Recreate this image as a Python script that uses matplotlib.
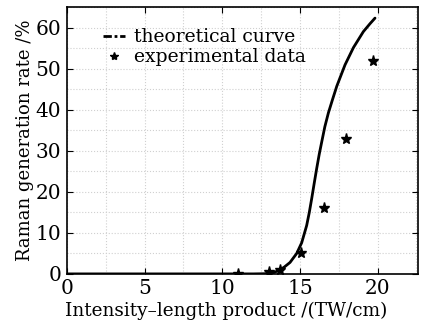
import matplotlib
matplotlib.use("Agg")
import matplotlib.pyplot as plt
from matplotlib.lines import Line2D
from matplotlib.ticker import MultipleLocator

# theoretical curve
curve_x = [0, 12, 12.8, 13.3, 13.72, 14.0, 14.36, 14.79, 15.11, 15.43, 15.6, 15.76,
           15.92, 16.08, 16.24, 16.4, 16.6, 16.83, 17.1, 17.37, 17.9, 18.44, 19.08,
           19.5, 19.83]
curve_y = [0, 0, 0.05, 0.3, 1.0, 1.7, 2.8, 5.0, 7.6, 11.8, 15.0, 18.5,
           22.2, 25.8, 29.2, 32.2, 35.9, 39.3, 42.6, 45.8, 51.0, 55.2, 59.1,
           61.0, 62.4]
# experimental data
exp_x = [11.0, 13.0, 13.7, 15.05, 16.55, 17.95, 19.7]
exp_y = [0.0, 0.5, 1.0, 5.0, 16.0, 33.0, 52.0]

x_ticks = [0, 5, 10, 15, 20]
y_ticks = [0, 10, 20, 30, 40, 50, 60]

plt.rcParams['font.family'] = ['DejaVu Serif']
plt.rcParams['mathtext.fontset'] = 'dejavuserif'

fig = plt.figure(figsize=(4.21, 3.23), dpi=100)
ax = fig.add_axes([0.159, 0.152, 0.834, 0.825])

ax.plot(curve_x, curve_y, color='black', lw=2.0, solid_capstyle='round',
        solid_joinstyle='round')
ax.plot(exp_x, exp_y, linestyle='none', marker='*', color='black', markersize=8)

ax.set_xlim(0, 22.6)
ax.set_ylim(0, 65)
ax.set_xticks(x_ticks)
ax.set_yticks(y_ticks)
ax.xaxis.set_minor_locator(MultipleLocator(2.5))
ax.yaxis.set_minor_locator(MultipleLocator(5))
ax.tick_params(which='both', direction='in', top=True, right=True, labelsize=14.5)
ax.tick_params(which='major', length=4, width=0.8)
ax.tick_params(axis='x', which='major', pad=4)
ax.tick_params(axis='y', which='major', pad=4)
ax.tick_params(which='minor', length=0)
ax.grid(which='both', color='#d0d0d0', linestyle=':', linewidth=0.8)
ax.set_axisbelow(True)
for s in ax.spines.values():
    s.set_linewidth(1.2)

ax.set_xlabel('Intensity\u2013length product /(TW/cm)', fontsize=13.3, labelpad=1)
ax.xaxis.set_label_coords(0.453, -0.105)
ax.set_ylabel('Raman generation rate /%', fontsize=13, labelpad=1)

handles = [Line2D([], [], color='black', lw=2, linestyle=(0, (3, 1, 1, 1))),
           Line2D([], [], color='black', linestyle='none', marker='*', markersize=6)]
ax.legend(handles, ['theoretical curve', 'experimental data'], loc='upper left',
          bbox_to_anchor=(0.08, 0.95), frameon=False, fontsize=13.5,
          handlelength=1.2, handletextpad=0.5, labelspacing=0.1, borderaxespad=0)

fig.savefig('out.png', dpi=100)
